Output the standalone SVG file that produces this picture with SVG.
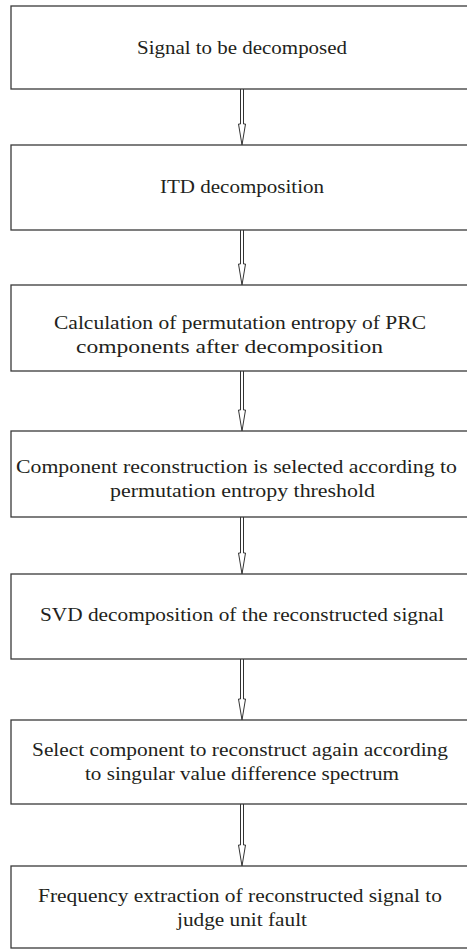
<svg xmlns="http://www.w3.org/2000/svg" width="467" height="951" viewBox="0 0 467 951">
<style>
.box{fill:#ffffff;stroke:#3a3a3a;stroke-width:1.3}
.lbl{font-family:"Liberation Serif","Times New Roman",serif;font-size:19px;fill:#231f20}
.arr{fill:#ffffff;stroke:#333333;stroke-width:1}
</style>
<rect width="467" height="951" fill="#ffffff"/>
<g id="connectors">
<path class="arr" d="M240.5,89 V124 H238.5 L242,145 L245.5,124 H243.5 V89"/>
<path class="arr" d="M240.5,230 V264 H238.5 L242,285 L245.5,264 H243.5 V230"/>
<path class="arr" d="M240.5,371 V410 H238.5 L242,431 L245.5,410 H243.5 V371"/>
<path class="arr" d="M240.5,517 V553 H238.5 L242,574 L245.5,553 H243.5 V517"/>
<path class="arr" d="M240.5,659 V699 H238.5 L242,720 L245.5,699 H243.5 V659"/>
<path class="arr" d="M240.5,804 V845 H238.5 L242,866 L245.5,845 H243.5 V804"/>
</g>
<g id="n1"><rect class="box" x="11" y="6" width="470" height="83"/>
<text class="lbl" x="137" y="54" textLength="210" lengthAdjust="spacingAndGlyphs">Signal to be decomposed</text></g>
<g id="n2"><rect class="box" x="11" y="145" width="470" height="85"/>
<text class="lbl" x="160" y="193" textLength="164" lengthAdjust="spacingAndGlyphs">ITD decomposition</text></g>
<g id="n3"><rect class="box" x="11" y="285" width="470" height="86"/>
<text class="lbl" x="54" y="329" textLength="372" lengthAdjust="spacingAndGlyphs">Calculation of permutation entropy of PRC</text>
<text class="lbl" x="76" y="353" textLength="307" lengthAdjust="spacingAndGlyphs">components after decomposition</text></g>
<g id="n4"><rect class="box" x="11" y="431" width="470" height="86"/>
<text class="lbl" x="16" y="473" textLength="441" lengthAdjust="spacingAndGlyphs">Component reconstruction is selected according to</text>
<text class="lbl" x="110" y="497" textLength="265" lengthAdjust="spacingAndGlyphs">permutation entropy threshold</text></g>
<g id="n5"><rect class="box" x="11" y="574" width="470" height="85"/>
<text class="lbl" x="40" y="621" textLength="404" lengthAdjust="spacingAndGlyphs">SVD decomposition of the reconstructed signal</text></g>
<g id="n6"><rect class="box" x="11" y="720" width="470" height="84"/>
<text class="lbl" x="32" y="756" textLength="416" lengthAdjust="spacingAndGlyphs">Select component to reconstruct again according</text>
<text class="lbl" x="85" y="780" textLength="314" lengthAdjust="spacingAndGlyphs">to singular value difference spectrum</text></g>
<g id="n7"><rect class="box" x="11" y="866" width="470" height="82"/>
<text class="lbl" x="38" y="902" textLength="404" lengthAdjust="spacingAndGlyphs">Frequency extraction of reconstructed signal to</text>
<text class="lbl" x="177" y="926" textLength="130" lengthAdjust="spacingAndGlyphs">judge unit fault</text></g>
</svg>
